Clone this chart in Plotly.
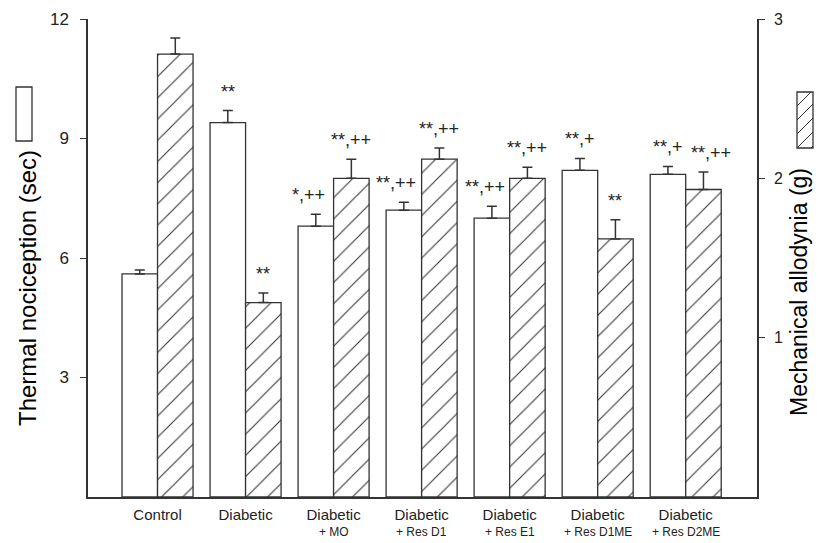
import plotly.graph_objects as go
from plotly.subplots import make_subplots

# Group labels (second line is the treatment)
groups = ["Control", "Diabetic", "Diabetic", "Diabetic", "Diabetic", "Diabetic", "Diabetic"]
treatments = ["", "", "+ MO", "+ Res D1", "+ Res E1", "+ Res D1ME", "+ Res D2ME"]

# Thermal nociception (sec), left axis
thermal = [5.6, 9.4, 6.8, 7.2, 7.0, 8.2, 8.1]
thermal_err = [0.1, 0.3, 0.3, 0.2, 0.3, 0.3, 0.2]
thermal_sig = ["", "**", "*,++", "**,++", "**,++", "**,+", "**,+"]

# Mechanical allodynia (g), right axis
mech = [2.78, 1.22, 2.00, 2.12, 2.00, 1.62, 1.93]
mech_err = [0.10, 0.06, 0.12, 0.07, 0.07, 0.12, 0.11]
mech_sig = ["", "**", "**,++", "**,++", "**,++", "**", "**,++"]

# Axis ticks
left_ticks = [3, 6, 9, 12]
right_ticks = [1, 2, 3]

FONT = "Liberation Sans, Arial, sans-serif"
INK = "#222222"
LINE = "#333333"

W, H = 820, 543
L, R, T, B = 88, 757, 19, 497  # plot area in pixels


def px_x(p):
    return (p - L) / (R - L)


def px_y(p):
    return (B - p) / (B - T)


idx = list(range(len(groups)))

fig = make_subplots(specs=[[{"secondary_y": True}]])

fig.add_trace(
    go.Bar(
        x=idx, y=thermal, offsetgroup="thermal",
        marker=dict(color="white", line=dict(color=LINE, width=1.3)),
        error_y=dict(type="data", symmetric=False, array=thermal_err,
                     arrayminus=[0] * len(thermal_err),
                     color=LINE, thickness=1.5, width=5),
        showlegend=False,
    ),
    secondary_y=False,
)
fig.add_trace(
    go.Bar(
        x=idx, y=mech, offsetgroup="mech",
        marker=dict(color="white", line=dict(color=LINE, width=1.3),
                    pattern=dict(shape="/", fgcolor="#333333", bgcolor="white",
                                 size=15, solidity=0.07)),
        error_y=dict(type="data", symmetric=False, array=mech_err,
                     arrayminus=[0] * len(mech_err),
                     color=LINE, thickness=1.5, width=5),
        showlegend=False,
    ),
    secondary_y=True,
)

OFF = 0.2017  # half of a bar slot in category units
thermal_dx = [0, 0, -7, -8, -7, 0, 0]
mech_dx = [0, 0, 0, 0, 0, 0, 8]

ann = []
for i in idx:
    if thermal_sig[i]:
        ann.append(dict(x=i - OFF, y=thermal[i] + thermal_err[i], xref="x", yref="y",
                        text=thermal_sig[i], showarrow=False, yanchor="middle",
                        yshift=19, xshift=thermal_dx[i],
                        font=dict(family=FONT, size=18, color=INK)))
    if mech_sig[i]:
        ann.append(dict(x=i + OFF, y=mech[i] + mech_err[i], xref="x", yref="y2",
                        text=mech_sig[i], showarrow=False, yanchor="middle",
                        yshift=19, xshift=mech_dx[i],
                        font=dict(family=FONT, size=18, color=INK)))
    # treatment line under the group name
    if treatments[i]:
        ann.append(dict(x=i, y=px_y(532), xref="x", yref="paper",
                        text=treatments[i], showarrow=False,
                        xanchor="center", yanchor="middle",
                        font=dict(family=FONT, size=12, color=INK)))

# Axis titles drawn as rotated annotations
ann.append(dict(x=px_x(27), y=px_y(288), xref="paper", yref="paper",
                xanchor="center", yanchor="middle", bgcolor="rgba(0,0,0,0)",
                text="Thermal nociception (sec)", textangle=-90, showarrow=False,
                font=dict(family=FONT, size=24, color="black")))
ann.append(dict(x=px_x(799), y=px_y(292), xref="paper", yref="paper",
                xanchor="center", yanchor="middle", bgcolor="rgba(0,0,0,0)",
                text="Mechanical allodynia (g)", textangle=-90, showarrow=False,
                font=dict(family=FONT, size=23, color="black")))

# Key boxes next to the axis titles
shapes = [
    dict(type="rect", xref="paper", yref="paper",
         x0=px_x(16), x1=px_x(32), y0=px_y(141), y1=px_y(87),
         line=dict(color=LINE, width=1.3), fillcolor="white"),
    dict(type="rect", xref="paper", yref="paper",
         x0=px_x(797), x1=px_x(813), y0=px_y(148), y1=px_y(92),
         line=dict(color=LINE, width=1.3), fillcolor="white"),
]
# diagonal hatching inside the right key box
kx0, kx1, ky0, ky1 = 797, 813, 92, 148
for start in range(ky0 + 14, ky1 + 16, 14):
    # line rising to the right at 45 degrees, clipped to the box
    xa, ya = kx0, start
    xb, yb = kx1, start - (kx1 - kx0)
    if ya > ky1:
        xa, ya = kx0 + (ya - ky1), ky1
    if yb < ky0:
        xb, yb = kx1 - (ky0 - yb), ky0
    if xa >= xb:
        continue
    shapes.append(dict(type="line", xref="paper", yref="paper",
                       x0=px_x(xa), y0=px_y(ya), x1=px_x(xb), y1=px_y(yb),
                       line=dict(color=LINE, width=1)))

fig.update_layout(
    template="none",
    width=W, height=H,
    margin=dict(l=L, r=W - R, t=T, b=H - B, pad=0),
    paper_bgcolor="white", plot_bgcolor="white",
    barmode="group", bargap=0.193, bargroupgap=0,
    annotations=ann, shapes=shapes,
    font=dict(family=FONT, color=INK),
)
fig.update_xaxes(
    domain=[0, 1], automargin=False,
    range=[-0.79, 6.81], tickvals=idx, ticktext=groups,
    showline=True, linecolor=LINE, linewidth=1.5, ticks="",
    showgrid=False, zeroline=False, ticklabelstandoff=3,
    tickfont=dict(family=FONT, size=15, color=INK),
)
fig.update_yaxes(
    automargin=False,
    range=[0, 12], tickvals=left_ticks, showline=True, linecolor=LINE,
    linewidth=1.5, ticks="outside", ticklen=6, tickwidth=1.3, tickcolor=LINE,
    showgrid=False, zeroline=False, ticklabelstandoff=8,
    tickfont=dict(family=FONT, size=17, color=INK),
    secondary_y=False,
)
fig.update_yaxes(
    automargin=False,
    range=[0, 3], tickvals=right_ticks, ticktext=[str(v) for v in right_ticks],
    showline=True, linecolor=LINE,
    linewidth=1.5, ticks="outside", ticklen=6, tickwidth=1.3, tickcolor=LINE,
    showgrid=False, zeroline=False, ticklabelstandoff=6,
    tickfont=dict(family=FONT, size=16, color=INK),
    secondary_y=True,
)

fig.write_html("out.html")
